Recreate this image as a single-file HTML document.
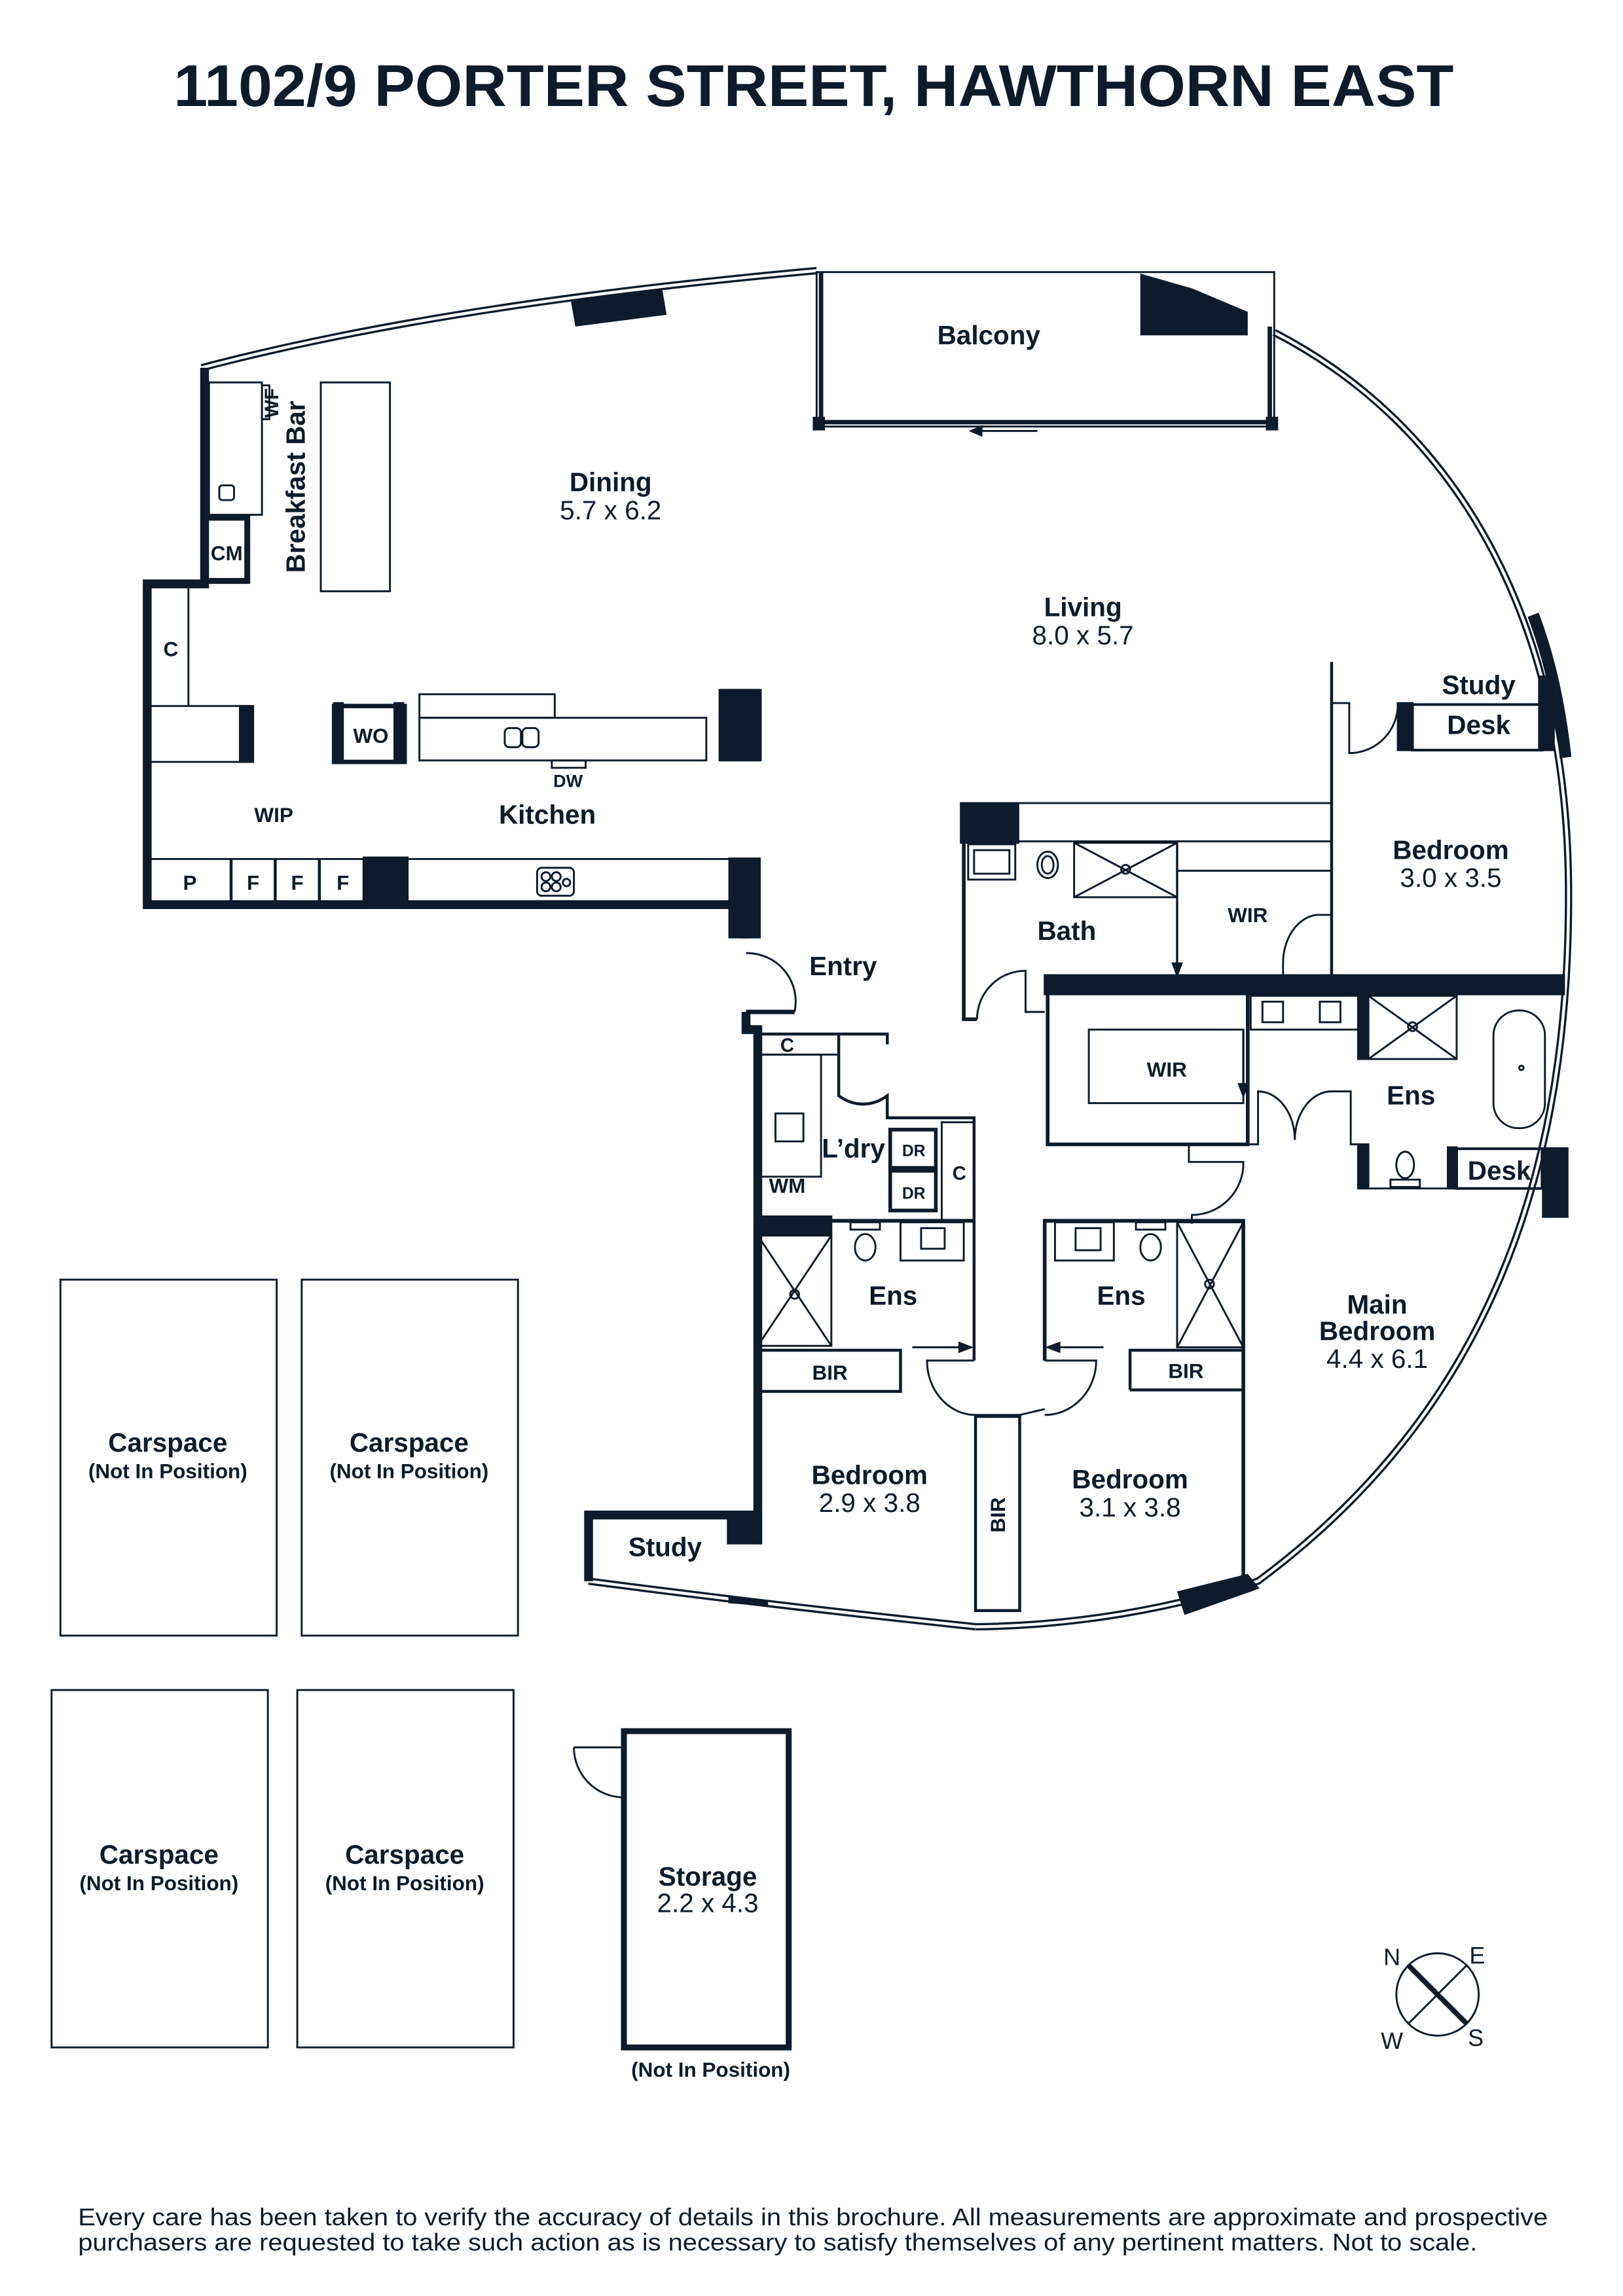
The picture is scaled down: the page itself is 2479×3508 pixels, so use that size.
<!DOCTYPE html>
<html><head><meta charset="utf-8"><style>
html,body{margin:0;padding:0;background:#fff;}
svg{display:block;}
text{font-family:"Liberation Sans",sans-serif;fill:#0d1b2a;}
.b{font-weight:bold;}
</style></head><body>
<svg width="2479" height="3508" viewBox="0 0 1103 1561" xmlns="http://www.w3.org/2000/svg">
<g stroke="#0d1b2a" fill="none" stroke-width="1.3">
<text x="118" y="72" textLength="870" lengthAdjust="spacingAndGlyphs" class="b" font-size="40" stroke="none">1102/9 PORTER STREET, HAWTHORN EAST</text>

<!-- exterior windows -->
<path d="M137,250 Q300,207 555,184" stroke-width="5"/>
<path d="M137,250 Q300,207 555,184" stroke="#fff" stroke-width="2"/>
<path d="M866,226 C990,290 1064,420 1066,600 C1068,800 1010,960 855,1075 Q760,1105 663,1106" stroke-width="5"/>
<path d="M866,226 C990,290 1064,420 1066,600 C1068,800 1010,960 855,1075 Q760,1105 663,1106" stroke="#fff" stroke-width="2"/>
<path d="M663,1106 Q530,1092 400,1075" stroke-width="5"/>
<path d="M663,1106 Q530,1092 400,1075" stroke="#fff" stroke-width="2"/>
<!-- dark wall pieces on exterior -->
<polygon points="388,205 450,196 453,214 391,222" fill="#0d1b2a" stroke="none"/>
<polygon points="775,186 810,196 848,212 848,228 775,228" fill="#0d1b2a" stroke="none"/>
<path d="M1042,418 Q1058,460 1064,515" stroke-width="8"/>
<rect x="1048" y="780" width="18" height="48" fill="#0d1b2a" stroke="none"/>
<polygon points="800,1082 848,1070 856,1080 805,1098" fill="#0d1b2a" stroke="none"/>
<polygon points="495,1085 522,1088 522,1092 495,1090" fill="#0d1b2a" stroke="none"/>

<!-- balcony -->
<rect x="555" y="185" width="311" height="105" stroke-width="1.3"/>
<line x1="558" y1="185" x2="558" y2="290" stroke-width="3"/>
<line x1="863" y1="222" x2="863" y2="290" stroke-width="3"/>
<line x1="555" y1="287" x2="866" y2="287" stroke-width="3"/>
<rect x="553" y="284" width="7" height="8" fill="#0d1b2a"/>
<rect x="861" y="284" width="7" height="8" fill="#0d1b2a"/>
<line x1="705" y1="293" x2="662" y2="293"/>
<polygon points="660,293 667,290 667,296" fill="#0d1b2a"/>
<text x="672" y="234" text-anchor="middle" class="b" font-size="18" stroke="none">Balcony</text>

<!-- west walls -->
<path d="M139,250 L139,397 L100,397 L100,615 L507,615 L507,638" stroke-width="6"/>
<path d="M507,688 L507,700 L515,700 L515,1050" stroke-width="6"/>
<path d="M507,688 L540,688" stroke-width="3"/>
<path d="M507,648 A33,33 0 0 1 540,688"/>
<rect x="495" y="583" width="22" height="55" fill="#0d1b2a" stroke="none"/>
<path d="M515,1030 L400,1030 L400,1075" stroke-width="6"/>
<rect x="494" y="1028" width="22" height="22" fill="#0d1b2a" stroke="none"/>
<text x="452" y="1058" text-anchor="middle" class="b" font-size="18" stroke="none">Study</text>

<!-- kitchen left -->
<rect x="142" y="260" width="36" height="90" />
<rect x="178" y="262" width="5" height="23"/>
<rect x="149" y="330" width="10" height="10" rx="2"/>
<path d="M140,352 L168,352 L168,395 L140,395" stroke-width="4"/>
<text x="154" y="381" text-anchor="middle" class="b" font-size="14" stroke="none">CM</text>
<text x="189" y="274" text-anchor="middle" class="b" font-size="13" stroke="none" transform="rotate(-90 189 274)">WF</text>
<text x="207" y="331" text-anchor="middle" class="b" font-size="18" stroke="none" transform="rotate(-90 207 331)">Breakfast Bar</text>
<rect x="218" y="260" width="47" height="142"/>
<line x1="128" y1="400" x2="128" y2="480"/>
<text x="116" y="446" text-anchor="middle" class="b" font-size="14" stroke="none">C</text>
<rect x="100" y="480" width="70" height="38"/>
<rect x="163" y="480" width="9" height="38" fill="#0d1b2a"/>
<rect x="227" y="480" width="48" height="38" stroke-width="3"/>
<rect x="227" y="478" width="6" height="40" fill="#0d1b2a"/>
<rect x="268" y="478" width="6" height="40" fill="#0d1b2a"/>
<text x="252" y="505" text-anchor="middle" class="b" font-size="14" stroke="none">WO</text>
<rect x="285" y="472" width="92" height="16"/>
<rect x="285" y="488" width="195" height="29"/>
<rect x="343" y="495" width="11" height="13" rx="3"/>
<rect x="355" y="495" width="11" height="13" rx="3"/>
<rect x="375" y="517" width="23" height="5"/>
<text x="386" y="535" text-anchor="middle" class="b" font-size="12" stroke="none">DW</text>
<rect x="489" y="469" width="28" height="48" fill="#0d1b2a"/>
<text x="186" y="559" text-anchor="middle" class="b" font-size="14" stroke="none">WIP</text>
<text x="372" y="560" text-anchor="middle" class="b" font-size="18" stroke="none">Kitchen</text>
<text x="415" y="334" text-anchor="middle" class="b" font-size="18" stroke="none">Dining</text>
<text x="415" y="353" text-anchor="middle" font-size="18" stroke="none">5.7 x 6.2</text>
<text x="736" y="419" text-anchor="middle" class="b" font-size="18" stroke="none">Living</text>
<text x="736" y="438" text-anchor="middle" font-size="18" stroke="none">8.0 x 5.7</text>
<line x1="100" y1="584" x2="500" y2="584"/>
<line x1="157" y1="584" x2="157" y2="615" stroke-width="2"/>
<line x1="187" y1="584" x2="187" y2="615" stroke-width="2"/>
<line x1="217" y1="584" x2="217" y2="615" stroke-width="2"/>
<rect x="247" y="583" width="30" height="32" fill="#0d1b2a"/>
<rect x="365" y="590" width="25" height="19" rx="3"/>
<circle cx="371" cy="596" r="3"/><circle cx="378" cy="596" r="3"/><circle cx="371" cy="603" r="3"/><circle cx="378" cy="603" r="3"/><circle cx="385" cy="600" r="2.5"/>
<text x="129" y="605" text-anchor="middle" class="b" font-size="14" stroke="none">P</text>
<text x="172" y="605" text-anchor="middle" class="b" font-size="14" stroke="none">F</text>
<text x="202" y="605" text-anchor="middle" class="b" font-size="14" stroke="none">F</text>
<text x="233" y="605" text-anchor="middle" class="b" font-size="14" stroke="none">F</text>

<!-- bath area -->
<rect x="653" y="546" width="39" height="27" fill="#0d1b2a"/>
<rect x="692" y="546" width="213" height="26"/>
<path d="M655,573 L655,693 L664,693" stroke-width="2.5"/>
<path d="M664,693 A33,33 0 0 1 697,660 L697,688 L710,688" />
<rect x="658" y="574" width="32" height="24"/><rect x="662" y="578" width="24" height="16"/>
<ellipse cx="712" cy="588" rx="7" ry="9"/><ellipse cx="712" cy="588" rx="4" ry="6"/>
<rect x="730" y="573" width="70" height="37"/>
<path d="M730,573 L800,610 M800,573 L730,610"/><circle cx="765" cy="591" r="3"/>
<line x1="800" y1="592" x2="905" y2="592"/>
<line x1="800" y1="573" x2="800" y2="660" stroke-width="1.5"/>
<polygon points="800,663 797,655 803,655" fill="#0d1b2a"/>
<text x="725" y="639" text-anchor="middle" class="b" font-size="18" stroke="none">Bath</text>
<text x="848" y="627" text-anchor="middle" class="b" font-size="14" stroke="none">WIR</text>
<path d="M905,622 L895,622 A25,33 0 0 0 872,655 L872,663" />
<path d="M905,450 L905,663" stroke-width="2"/>
<path d="M905,478 L917,478 L917,512 A33,33 0 0 0 950,478"/>
<rect x="950" y="478" width="10" height="32" fill="#0d1b2a"/>
<rect x="960" y="479" width="88" height="31" stroke-width="1.8"/>
<rect x="1046" y="460" width="10" height="50" fill="#0d1b2a"/>
<text x="1005" y="472" text-anchor="middle" class="b" font-size="18" stroke="none">Study</text>
<text x="1005" y="499" text-anchor="middle" class="b" font-size="18" stroke="none">Desk</text>
<text x="986" y="584" text-anchor="middle" class="b" font-size="18" stroke="none">Bedroom</text>
<text x="986" y="603" text-anchor="middle" font-size="18" stroke="none">3.0 x 3.5</text>

<!-- thick wall -->
<rect x="710" y="663" width="353" height="13" fill="#0d1b2a"/>
<path d="M712,676 L712,778 L848,778 L848,676" stroke-width="2.5"/>
<rect x="740" y="700" width="105" height="50"/>
<text x="793" y="732" text-anchor="middle" class="b" font-size="14" stroke="none">WIR</text>
<line x1="845" y1="700" x2="845" y2="742" stroke-width="1.5"/>
<polygon points="845,745 842,737 848,737" fill="#0d1b2a"/>
<path d="M848,778 L855,778 L855,742 A25,33 0 0 1 880,775 A25,33 0 0 1 905,742 L918,742 L918,778 L925,778 L925,808 L990,808"/>
<rect x="923" y="778" width="7" height="30" fill="#0d1b2a"/>
<rect x="850" y="677" width="73" height="23"/>
<rect x="858" y="681" width="14" height="14"/><rect x="897" y="681" width="14" height="14"/>
<rect x="923" y="677" width="7" height="43" fill="#0d1b2a"/>
<rect x="930" y="677" width="60" height="43"/>
<path d="M930,677 L990,720 M990,677 L930,720"/><circle cx="960" cy="698" r="3"/>
<rect x="1015" y="687" width="35" height="80" rx="17"/>
<circle cx="1034" cy="726" r="1.5"/>
<text x="959" y="751" text-anchor="middle" class="b" font-size="18" stroke="none">Ens</text>
<ellipse cx="955" cy="792" rx="6" ry="9"/><rect x="945" y="802" width="20" height="5"/>
<rect x="984" y="780" width="6" height="28" fill="#0d1b2a"/>
<rect x="990" y="781" width="58" height="27" stroke-width="1.8"/>
<text x="1019" y="802" text-anchor="middle" class="b" font-size="18" stroke="none">Desk</text>
<path d="M808,778 L808,790 L845,790 A35,35 0 0 1 810,826 L810,832" />

<!-- laundry -->
<path d="M515,703 L603,703 L603,710 M570,703 L570,745 A33,42 0 0 0 603,745 L603,760 L662,760 L662,830" stroke-width="2"/>
<rect x="515" y="703" width="55" height="14"/>
<text x="535" y="715" text-anchor="middle" class="b" font-size="13" stroke="none">C</text>
<rect x="515" y="717" width="43" height="83"/>
<rect x="527" y="757" width="19" height="19"/>
<text x="535" y="811" text-anchor="middle" class="b" font-size="14" stroke="none">WM</text>
<text x="580" y="787" text-anchor="middle" class="b" font-size="18" stroke="none">L’dry</text>
<rect x="605" y="768" width="31" height="26" stroke-width="2.5"/>
<rect x="605" y="796" width="31" height="27" stroke-width="2.5"/>
<text x="621" y="786" text-anchor="middle" class="b" font-size="11" stroke="none">DR</text>
<text x="621" y="815" text-anchor="middle" class="b" font-size="11" stroke="none">DR</text>
<rect x="640" y="763" width="22" height="67"/>
<text x="652" y="802" text-anchor="middle" class="b" font-size="13" stroke="none">C</text>

<!-- left ensuite / bedroom -->
<rect x="515" y="827" width="50" height="13" fill="#0d1b2a"/>
<line x1="515" y1="830" x2="662" y2="830" stroke-width="2.5"/>
<rect x="515" y="840" width="50" height="75"/>
<path d="M515,840 L565,915 M565,840 L515,915"/><circle cx="540" cy="880" r="3"/>
<ellipse cx="588" cy="848" rx="7" ry="9"/><rect x="578" y="831" width="20" height="5"/>
<rect x="612" y="831" width="43" height="26"/><rect x="626" y="835" width="16" height="14"/>
<text x="607" y="887" text-anchor="middle" class="b" font-size="18" stroke="none">Ens</text>
<path d="M515,918 L612,918 L612,946 L515,946" stroke-width="2"/>
<line x1="620" y1="916" x2="655" y2="916"/>
<polygon points="660,916 652,913 652,919" fill="#0d1b2a"/>
<line x1="662" y1="830" x2="662" y2="925" stroke-width="2"/>
<text x="564" y="938" text-anchor="middle" class="b" font-size="14" stroke="none">BIR</text>
<path d="M662,925 L630,925 A33,37 0 0 0 663,962 L693,962 L710,958"/>
<text x="591" y="1009" text-anchor="middle" class="b" font-size="18" stroke="none">Bedroom</text>
<text x="591" y="1028" text-anchor="middle" font-size="18" stroke="none">2.9 x 3.8</text>
<rect x="663" y="963" width="30" height="132" stroke-width="2"/>
<text x="683" y="1030" text-anchor="middle" class="b" font-size="14" stroke="none" transform="rotate(-90 683 1030)">BIR</text>

<!-- right ensuite / bedroom -->
<path d="M710,925 L710,830 L845,830 L845,1075" stroke-width="2.5"/>
<path d="M710,925 L745,925 A35,37 0 0 1 710,962"/>
<rect x="717" y="831" width="40" height="26"/><rect x="731" y="835" width="17" height="15"/>
<ellipse cx="782" cy="848" rx="7" ry="9"/><rect x="772" y="831" width="20" height="5"/>
<rect x="800" y="831" width="45" height="85"/>
<path d="M800,831 L845,916 M845,831 L800,916"/><circle cx="822" cy="873" r="3"/>
<text x="762" y="887" text-anchor="middle" class="b" font-size="18" stroke="none">Ens</text>
<line x1="750" y1="916" x2="717" y2="916"/>
<polygon points="712,916 720,913 720,919" fill="#0d1b2a"/>
<path d="M768,945 L768,918 L845,918 M768,945 L845,945" stroke-width="2"/>
<text x="806" y="937" text-anchor="middle" class="b" font-size="14" stroke="none">BIR</text>
<text x="768" y="1012" text-anchor="middle" class="b" font-size="18" stroke="none">Bedroom</text>
<text x="768" y="1031" text-anchor="middle" font-size="18" stroke="none">3.1 x 3.8</text>
<text x="936" y="893" text-anchor="middle" class="b" font-size="18" stroke="none">Main</text>
<text x="936" y="911" text-anchor="middle" class="b" font-size="18" stroke="none">Bedroom</text>
<text x="936" y="930" text-anchor="middle" font-size="18" stroke="none">4.4 x 6.1</text>
<text x="573" y="663" text-anchor="middle" class="b" font-size="18" stroke="none">Entry</text>

<!-- carspaces -->
<rect x="41" y="870" width="147" height="242"/>
<rect x="205" y="870" width="147" height="242"/>
<rect x="35" y="1149" width="147" height="243"/>
<rect x="202" y="1149" width="147" height="243"/>
<g stroke="none">
<text x="114" y="987" text-anchor="middle" class="b" font-size="18">Carspace</text>
<text x="114" y="1005" text-anchor="middle" class="b" font-size="14">(Not In Position)</text>
<text x="278" y="987" text-anchor="middle" class="b" font-size="18">Carspace</text>
<text x="278" y="1005" text-anchor="middle" class="b" font-size="14">(Not In Position)</text>
<text x="108" y="1267" text-anchor="middle" class="b" font-size="18">Carspace</text>
<text x="108" y="1285" text-anchor="middle" class="b" font-size="14">(Not In Position)</text>
<text x="275" y="1267" text-anchor="middle" class="b" font-size="18">Carspace</text>
<text x="275" y="1285" text-anchor="middle" class="b" font-size="14">(Not In Position)</text>
</g>
<path d="M424,1188 L424,1392 L536,1392 L536,1177 L424,1177 L424,1188" stroke-width="4"/>
<path d="M390,1188 L424,1188 L424,1222 A34,34 0 0 1 390,1188"/>
<text x="481" y="1282" text-anchor="middle" class="b" font-size="18" stroke="none">Storage</text>
<text x="481" y="1300" text-anchor="middle" font-size="18" stroke="none">2.2 x 4.3</text>
<text x="483" y="1412" text-anchor="middle" class="b" font-size="14" stroke="none">(Not In Position)</text>

<circle cx="977" cy="1356" r="28"/>
<line x1="957" y1="1336" x2="997" y2="1376" stroke-width="3.5"/>
<line x1="997" y1="1336" x2="957" y2="1376"/>
<g stroke="none" font-size="16">
<text x="946" y="1336" text-anchor="middle">N</text>
<text x="1004" y="1335" text-anchor="middle">E</text>
<text x="946" y="1393" text-anchor="middle">W</text>
<text x="1003" y="1391" text-anchor="middle">S</text>
</g>

<g stroke="none" font-size="16.5">
<text x="53" y="1513" textLength="999" lengthAdjust="spacingAndGlyphs">Every care has been taken to verify the accuracy of details in this brochure. All measurements are approximate and prospective</text>
<text x="53" y="1530" textLength="951" lengthAdjust="spacingAndGlyphs">purchasers are requested to take such action as is necessary to satisfy themselves of any pertinent matters. Not to scale.</text>
</g>
</g>
</svg>
</body></html>
